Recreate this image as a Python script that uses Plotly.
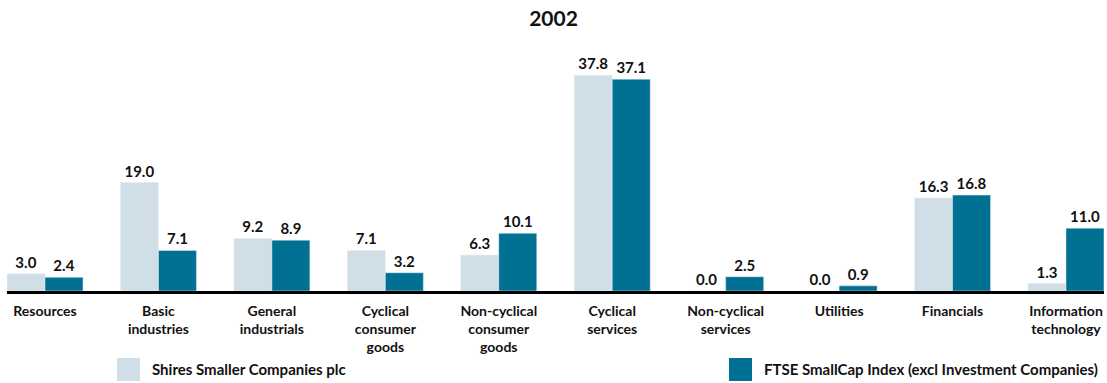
import plotly.graph_objects as go

categories = ["Resources", "Basic<br>industries", "General<br>industrials",
              "Cyclical<br>consumer<br>goods", "Non-cyclical<br>consumer<br>goods",
              "Cyclical<br>services", "Non-cyclical<br>services", "Utilities",
              "Financials", "Information<br>technology"]
shires = [3.0, 19.0, 9.2, 7.1, 6.3, 37.8, 0.0, 0.0, 16.3, 1.3]
ftse = [2.4, 7.1, 8.9, 3.2, 10.1, 37.1, 2.5, 0.9, 16.8, 11.0]
series_names = ["Shires Smaller Companies plc",
                "FTSE SmallCap Index (excl Investment Companies)"]
title = "2002"

light = "#D0DFE7"
dark = "#007093"
FONT = "Lato"
TXT = "#111111"

fig = go.Figure()
for vals, col, name in [(shires, light, series_names[0]), (ftse, dark, series_names[1])]:
    fig.add_trace(go.Bar(x=categories, y=vals, name=name, marker_color=col,
                         text=[f"{v:.1f}" for v in vals], textposition="outside",
                         cliponaxis=False,
                         textfont=dict(family=FONT, size=15, color=TXT, weight="bold")))

fig.update_layout(
    width=1107, height=383,
    margin=dict(l=7, r=3, t=40, b=92),
    barmode="group", bargap=0.33, bargroupgap=0,
    plot_bgcolor="white", paper_bgcolor="white",
    showlegend=False,
    font=dict(family=FONT, size=15, color=TXT),
    title=dict(text="<b>" + title + "</b>", x=0.5, xanchor="center", y=0.952, yanchor="middle",
               font=dict(family=FONT, size=21, color=TXT)),
    xaxis=dict(type="category", range=[-0.335, 9.335], showline=True, linecolor="black",
               linewidth=3, ticks="", showgrid=False, zeroline=False, ticklabelstandoff=5,
               tickfont=dict(family=FONT, size=14, color=TXT, weight="bold")),
    yaxis=dict(range=[0, 43.96], visible=False, showgrid=False, zeroline=False),
)

# legend drawn manually
for sx, col, name in [(117, light, series_names[0]), (729, dark, series_names[1])]:
    fig.add_shape(type="rect", xref="paper", yref="paper",
                  x0=(sx - 7) / 1097, x1=(sx + 23 - 7) / 1097,
                  y0=(291 - 381) / 251, y1=(291 - 358) / 251,
                  fillcolor=col, line=dict(width=0))
    fig.add_annotation(xref="paper", yref="paper", x=(sx + 33 - 7) / 1097,
                       y=(291 - 369) / 251, xanchor="left", yanchor="middle",
                       text="<b>" + name + "</b>", showarrow=False,
                       font=dict(family=FONT, size=15, color=TXT))

fig.write_html("out.html")
